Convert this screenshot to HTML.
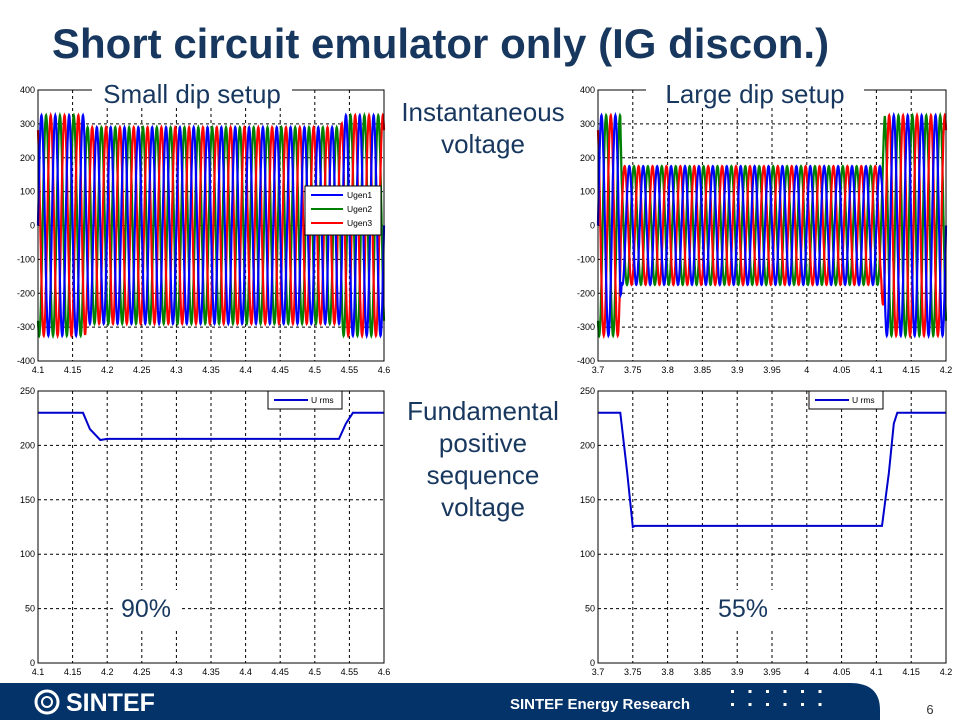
<!DOCTYPE html>
<html><head><meta charset="utf-8"><style>
body{margin:0;width:960px;height:720px;overflow:hidden;background:#fff;font-family:"Liberation Sans",sans-serif}
svg{display:block}
</style></head><body>
<svg id="s" width="960" height="720" xmlns="http://www.w3.org/2000/svg">
<text x="52" y="58" font-size="42" font-weight="bold" fill="#17375e">Short circuit emulator only (IG discon.)</text>
<g id="charts"></g>
<g font-size="26" fill="#17375e" text-anchor="middle">
<text x="483" y="121">Instantaneous</text><text x="483" y="153">voltage</text>
<text x="483" y="420">Fundamental</text><text x="483" y="452">positive</text><text x="483" y="484">sequence</text><text x="483" y="516">voltage</text>
</g>
<g>
<path d="M0 683 H850 Q880 683 880 710 V720 H0 Z" fill="#04336a"/>
<circle cx="47" cy="702" r="11" fill="none" stroke="#fff" stroke-width="3"/>
<circle cx="47" cy="702" r="5" fill="none" stroke="#fff" stroke-width="2"/>
<text x="66" y="711" font-size="25" font-weight="bold" fill="#fff">SINTEF</text>
<text x="510" y="709" font-size="15" font-weight="bold" fill="#fff">SINTEF Energy Research</text>
<g id="dots" fill="#fff"></g>
</g>
<text x="930" y="714" font-size="13" fill="#333" text-anchor="middle">6</text>
</svg>
<script>
// Waveform envelopes (time, amplitude) and frequency
const freqHz = 50;
const smallEnvT = [4.1, 4.168, 4.17, 4.538, 4.54, 4.6];
const smallEnvA = [325, 325, 290, 290, 325, 325];
const largeEnvT = [3.7, 3.732, 3.734, 4.107, 4.112, 4.2];
const largeEnvA = [325, 325, 175, 175, 325, 325];
// RMS series
const rmsSmallT = [4.1, 4.165, 4.175, 4.19, 4.2, 4.535, 4.545, 4.555, 4.6];
const rmsSmallV = [230, 230, 215, 205, 206, 206, 220, 230, 230];
const rmsLargeT = [3.7, 3.732, 3.742, 3.75, 3.753, 4.108, 4.118, 4.125, 4.13, 4.2];
const rmsLargeV = [230, 230, 175, 125, 126, 126, 175, 220, 230, 230];
const ticksSmallX = [4.1,4.15,4.2,4.25,4.3,4.35,4.4,4.45,4.5,4.55,4.6];
const ticksLargeX = [3.7,3.75,3.8,3.85,3.9,3.95,4,4.05,4.1,4.15,4.2];
const ticksInstY = [-400,-300,-200,-100,0,100,200,300,400];
const ticksRmsY = [0,50,100,150,200,250];
const phaseNames = ['Ugen1','Ugen2','Ugen3'];
const phaseColors = ['#0000ff','#008000','#ff0000'];

const NS='http://www.w3.org/2000/svg';
const root=document.getElementById('charts');
function mk(tag,attrs,parent){const e=document.createElementNS(NS,tag);for(const k in attrs)e.setAttribute(k,attrs[k]);(parent||root).appendChild(e);return e;}
function interp(T,A,t){for(let i=0;i<T.length-1;i++){if(t<=T[i+1]){const f=(t-T[i])/(T[i+1]-T[i]);return A[i]+f*(A[i+1]-A[i]);}}return A[A.length-1];}

function axes(g,x0,x1,y0,y1,xt,yt,name){
  const sx=v=>x0+(v-xt[0])/(xt[xt.length-1]-xt[0])*(x1-x0);
  const sy=v=>y1-(v-yt[0])/(yt[yt.length-1]-yt[0])*(y1-y0);
  mk('rect',{x:x0,y:y0,width:x1-x0,height:y1-y0,fill:'#fff',stroke:'none'},g);
  xt.forEach((v,i)=>{const x=sx(v);
    if(i>0&&i<xt.length-1){const l=mk('line',{x1:x,x2:x,y1:y0,y2:y1,stroke:'#000','stroke-width':1,'stroke-dasharray':'3,3'},g);
    
    }
    const t=mk('text',{x:x,y:y1+12,'font-size':9,'text-anchor':'middle',fill:'#000'},g);t.textContent=String(v);
    
    
  });
  yt.forEach((v,i)=>{const y=sy(v);
    if(i>0&&i<yt.length-1){const l=mk('line',{x1:x0,x2:x1,y1:y,y2:y,stroke:'#000','stroke-width':1,'stroke-dasharray':'3,3'},g);
    
    }
    const t=mk('text',{x:x0-3,y:y+3,'font-size':9,'text-anchor':'end',fill:'#000'},g);t.textContent=String(v);
    
    
  });
  return {sx,sy};
}
function frame(g,x0,x1,y0,y1){mk('rect',{x:x0,y:y0,width:x1-x0,height:y1-y0,fill:'none',stroke:'#000','stroke-width':1},g);}

function instChart(x0,x1,y0,y1,xt,envT,envA,name,label,lx,lw,legend){
  const g=mk('g',{});
  
  
  const {sx,sy}=axes(g,x0,x1,y0,y1,xt,ticksInstY,name);
  const order=[1,2,0];
  order.forEach(p=>{
    let d='';const t0=xt[0],t1=xt[xt.length-1];const n=1500;
    for(let i=0;i<=n;i++){const t=t0+(t1-t0)*i/n;const a=interp(envT,envA,t);
      const v=a*Math.sin(2*Math.PI*freqHz*t-p*2*Math.PI/3);
      d+=(i?'L':'M')+sx(t).toFixed(1)+' '+sy(v).toFixed(1);}
    const path=mk('path',{d:d,fill:'none',stroke:phaseColors[p],'stroke-width':2.2},g);
    
    
  });
  frame(g,x0,x1,y0,y1);
  mk('rect',{x:lx,y:y0-12,width:lw,height:30,fill:'#fff'},g);
  const t=mk('text',{x:lx+lw/2,y:y0+13,'font-size':26,'text-anchor':'middle',fill:'#17375e'},g);t.textContent=label;
  
  
  if(legend){
    const lg=mk('g',{},g);
    
    
    mk('rect',{x:305,y:186,width:76,height:49,fill:'#fff',stroke:'#000'},lg);
    phaseNames.forEach((nm,i)=>{
      mk('line',{x1:311,x2:343,y1:195+i*14,y2:195+i*14,stroke:phaseColors[i],'stroke-width':2},lg);
      const tt=mk('text',{x:347,y:198+i*14,'font-size':8.5,fill:'#000'},lg);tt.textContent=nm;
      
      
    });
  }
}
function rmsChart(x0,x1,y0,y1,xt,T,V,name,pct,px,lgx){
  const g=mk('g',{});
  
  
  const {sx,sy}=axes(g,x0,x1,y0,y1,xt,ticksRmsY,name);
  mk('rect',{x:px-32,y:590,width:66,height:40,fill:'#fff'},g);
  const pt=mk('text',{x:px,y:617,'font-size':25,'text-anchor':'middle',fill:'#17375e'},g);pt.textContent=pct;
  
  
  const d=T.map((t,i)=>(i?'L':'M')+sx(t).toFixed(1)+' '+sy(V[i]).toFixed(1)).join('');
  const path=mk('path',{d:d,fill:'none',stroke:'#0000cc','stroke-width':2},g);
  
  
  frame(g,x0,x1,y0,y1);
  const lg=mk('g',{},g);
  
  
  mk('rect',{x:lgx,y:y0,width:74,height:18,fill:'#fff',stroke:'#000'},lg);
  mk('line',{x1:lgx+6,x2:lgx+40,y1:y0+9,y2:y0+9,stroke:'#0000cc','stroke-width':2},lg);
  const tt=mk('text',{x:lgx+43,y:y0+12,'font-size':8.5,fill:'#000'},lg);tt.textContent='U rms';
  
  
}
instChart(38,384,90,361,ticksSmallX,smallEnvT,smallEnvA,'small-dip-instantaneous-chart','Small dip setup',92,200,true);
instChart(598,946,90,361,ticksLargeX,largeEnvT,largeEnvA,'large-dip-instantaneous-chart','Large dip setup',646,218,false);
rmsChart(38,384,391,663,ticksSmallX,rmsSmallT,rmsSmallV,'small-dip-rms-chart','90%',146,268);
rmsChart(598,946,391,663,ticksLargeX,rmsLargeT,rmsLargeV,'large-dip-rms-chart','55%',743,809);
const dots=document.getElementById('dots');
for(let r=0;r<2;r++)for(let c=0;c<6;c++){mk('rect',{x:731+c*17.5,y:690+r*13,width:3,height:3},dots);}
</script>
</body></html>
